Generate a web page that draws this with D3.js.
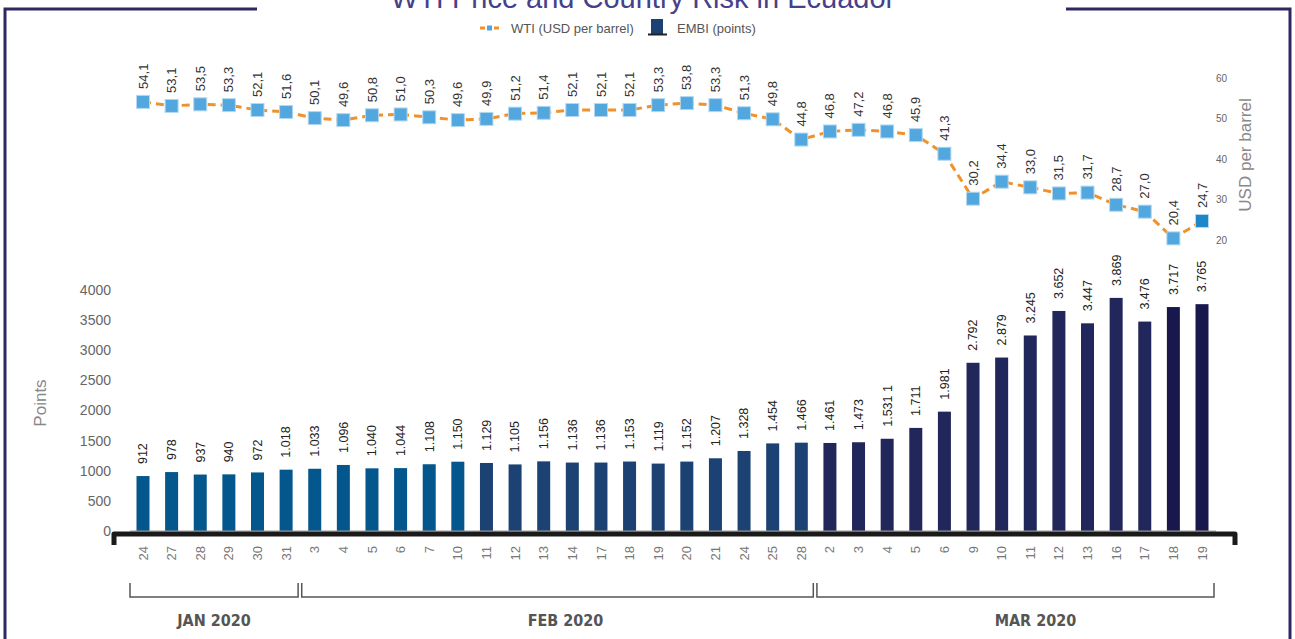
<!DOCTYPE html>
<html>
<head>
<meta charset="utf-8">
<script src="https://cdn.jsdelivr.net/npm/d3@7/dist/d3.min.js"></script>
<style>
  html, body { margin: 0; padding: 0; background: #fff; }
  svg { display: block; font-family: "Liberation Sans", Arial, sans-serif; }
</style>
</head>
<body>
<svg id="chart"></svg>
<script>
const width = 1295;
const height = 639;

// days shown on the x axis, split by month
const janDays = [24, 27, 28, 29, 30, 31];
const febDays = [3, 4, 5, 6, 7, 10, 11, 12, 13, 14, 17, 18, 19, 20, 21, 24, 25, 28];
const marDays = [2, 3, 4, 5, 6, 9, 10, 11, 12, 13, 16, 17, 18, 19];
const monthLabels = ["JAN 2020", "FEB 2020", "MAR 2020"];

// WTI (USD per barrel)
const wti = [54.1, 53.1, 53.5, 53.3, 52.1, 51.6,
  50.1, 49.6, 50.8, 51.0, 50.3, 49.6, 49.9, 51.2, 51.4, 52.1, 52.1, 52.1, 53.3, 53.8, 53.3, 51.3, 49.8, 44.8,
  46.8, 47.2, 46.8, 45.9, 41.3, 30.2, 34.4, 33.0, 31.5, 31.7, 28.7, 27.0, 20.4, 24.7];

// EMBI (points)
const embi = [912, 978, 937, 940, 972, 1018,
  1033, 1096, 1040, 1044, 1108, 1150, 1129, 1105, 1156, 1136, 1136, 1153, 1119, 1152, 1207, 1328, 1454, 1466,
  1461, 1473, 1531, 1711, 1981, 2792, 2879, 3245, 3652, 3447, 3869, 3476, 3717, 3765];

const embiTicks = [0, 500, 1000, 1500, 2000, 2500, 3000, 3500, 4000];
const wtiTicks = [20, 30, 40, 50, 60];

const monthDays = [janDays, febDays, marDays];
const cats = [];
monthDays.forEach((days, m) => days.forEach(d => cats.push({ key: m + "-" + d, day: d, month: m })));

const locale = d3.formatLocale({ decimal: ",", thousands: ".", grouping: [3], currency: ["$", ""] });
const fmtWti = locale.format(".1f");
const fmtEmbi = locale.format(",d");
// the source has a stray "1" after this one label
const embiLabelFix = { "1531": "1.531 1" };

const svg = d3.select("#chart").attr("width", width).attr("height", height);

const x = d3.scalePoint()
  .domain(cats.map(d => d.key))
  .range([143, 1202]);

const yBar = d3.scaleLinear().domain([0, 4000]).range([531, 290]);
const yWti = d3.scaleLinear().domain([20, 60]).range([240, 78]);

const barW = 13;
const barColor = d3.scaleThreshold()
  .domain([12, 24, 36])
  .range(["#03578c", "#1b4272", "#22275b", "#19184d"]);

// frame
const frameColor = "#2c2962";
svg.append("path")
  .attr("d", `M257,9 H5 V${height} M1066,9 H1290 V${height}`)
  .attr("fill", "none")
  .attr("stroke", frameColor)
  .attr("stroke-width", 3);

// title (cut off at the top like the source)
svg.append("text")
  .attr("x", 643)
  .attr("y", 8)
  .attr("text-anchor", "middle")
  .attr("font-size", 29)
  .attr("fill", "#45418a")
  .text("WTI Price and Country Risk in Ecuador");

// legend
const leg = svg.append("g").attr("transform", "translate(0,28)");
leg.append("line")
  .attr("x1", 480).attr("x2", 499)
  .attr("stroke", "#f0922b").attr("stroke-width", 3)
  .attr("stroke-dasharray", "5,2");
leg.append("rect")
  .attr("x", 487).attr("y", -2.5).attr("width", 5).attr("height", 5)
  .attr("fill", "#4fa6dd");
leg.append("text")
  .attr("x", 511).attr("y", 4.5)
  .attr("font-size", 13).attr("fill", "#555")
  .text("WTI (USD per barrel)");
leg.append("rect")
  .attr("x", 651).attr("y", -9).attr("width", 12).attr("height", 15)
  .attr("fill", "#1b4272");
leg.append("line")
  .attr("x1", 648).attr("x2", 667).attr("y1", 6.5).attr("y2", 6.5)
  .attr("stroke", "#222").attr("stroke-width", 2);
leg.append("text")
  .attr("x", 677).attr("y", 4.5)
  .attr("font-size", 13).attr("fill", "#555")
  .text("EMBI (points)");

// left axis (points)
svg.append("g")
  .selectAll("text")
  .data(embiTicks)
  .join("text")
  .attr("x", 111)
  .attr("y", d => yBar(d))
  .attr("dy", "0.35em")
  .attr("text-anchor", "end")
  .attr("font-size", 14)
  .attr("fill", "#666")
  .text(d => d);

svg.append("text")
  .attr("transform", "translate(46,403) rotate(-90)")
  .attr("text-anchor", "middle")
  .attr("font-size", 17)
  .attr("fill", "#888")
  .text("Points");

// right axis (USD per barrel)
svg.append("g")
  .selectAll("text")
  .data(wtiTicks)
  .join("text")
  .attr("x", 1216)
  .attr("y", d => yWti(d))
  .attr("dy", "0.35em")
  .attr("font-size", 10)
  .attr("fill", "#666")
  .text(d => d);

svg.append("text")
  .attr("transform", "translate(1251,155) rotate(-90)")
  .attr("text-anchor", "middle")
  .attr("font-size", 17)
  .attr("fill", "#888")
  .text("USD per barrel");

// bars
svg.append("g")
  .selectAll("rect")
  .data(cats)
  .join("rect")
  .attr("x", d => x(d.key) - barW / 2)
  .attr("y", (d, i) => yBar(embi[i]))
  .attr("width", barW)
  .attr("height", (d, i) => yBar(0) - yBar(embi[i]))
  .attr("fill", (d, i) => barColor(i));

svg.append("g")
  .selectAll("text")
  .data(cats)
  .join("text")
  .attr("transform", (d, i) => `translate(${x(d.key)},${yBar(embi[i]) - 12}) rotate(-90)`)
  .attr("dy", "0.35em")
  .attr("font-size", 12.5)
  .attr("fill", "#222")
  .text((d, i) => embiLabelFix[embi[i]] || fmtEmbi(embi[i]));

// baseline
svg.append("line")
  .attr("x1", 130).attr("x2", 1216)
  .attr("y1", yBar(0)).attr("y2", yBar(0))
  .attr("stroke", "#999").attr("stroke-width", 1);
svg.append("path")
  .attr("d", `M114,545 V534 H1235 V545`)
  .attr("fill", "none")
  .attr("stroke", "#1a1a1a")
  .attr("stroke-width", 5)
  .attr("stroke-linejoin", "round");

// day labels
svg.append("g")
  .selectAll("text")
  .data(cats)
  .join("text")
  .attr("transform", d => `translate(${x(d.key)},546) rotate(-90)`)
  .attr("dy", "0.35em")
  .attr("text-anchor", "end")
  .attr("font-size", 13)
  .attr("fill", "#777")
  .text(d => d.day);

// month brackets
let start = 0;
monthDays.forEach((days, m) => {
  const first = x(cats[start].key);
  const last = x(cats[start + days.length - 1].key);
  const x0 = first - 13;
  const x1 = last + 12;
  svg.append("path")
    .attr("d", `M${x0},583 V597 H${x1} V583`)
    .attr("fill", "none")
    .attr("stroke", "#555")
    .attr("stroke-width", 1.5);
  svg.append("text")
    .attr("x", (x0 + x1) / 2 + (m === 2 ? 20 : m === 1 ? 8 : 0))
    .attr("y", 626)
    .attr("text-anchor", "middle")
    .attr("font-family", "'Liberation Sans Narrow', 'DejaVu Sans Condensed', sans-serif")
    .attr("font-weight", "bold")
    .attr("font-size", 16)
    .attr("fill", "#555")
    .text(monthLabels[m]);
  start += days.length;
});

// WTI line
const line = d3.line()
  .x(d => x(d.key))
  .y((d, i) => yWti(wti[i]));

svg.append("path")
  .datum(cats)
  .attr("d", line)
  .attr("fill", "none")
  .attr("stroke", "#f0922b")
  .attr("stroke-width", 3)
  .attr("stroke-dasharray", "8,5");

const sq = 13;
svg.append("g")
  .selectAll("rect")
  .data(cats)
  .join("rect")
  .attr("x", d => x(d.key) - sq / 2)
  .attr("y", (d, i) => yWti(wti[i]) - sq / 2)
  .attr("width", sq)
  .attr("height", sq)
  .attr("fill", (d, i) => i === cats.length - 1 ? "#1f87c9" : "#52a7de")
  .attr("stroke", "#b3d8f0")
  .attr("stroke-width", 1);

svg.append("g")
  .selectAll("text")
  .data(cats)
  .join("text")
  .attr("transform", (d, i) => `translate(${x(d.key)},${yWti(wti[i]) - 13}) rotate(-90)`)
  .attr("dy", "0.35em")
  .attr("font-size", 13)
  .attr("fill", "#333")
  .text((d, i) => fmtWti(wti[i]));
</script>
</body>
</html>
